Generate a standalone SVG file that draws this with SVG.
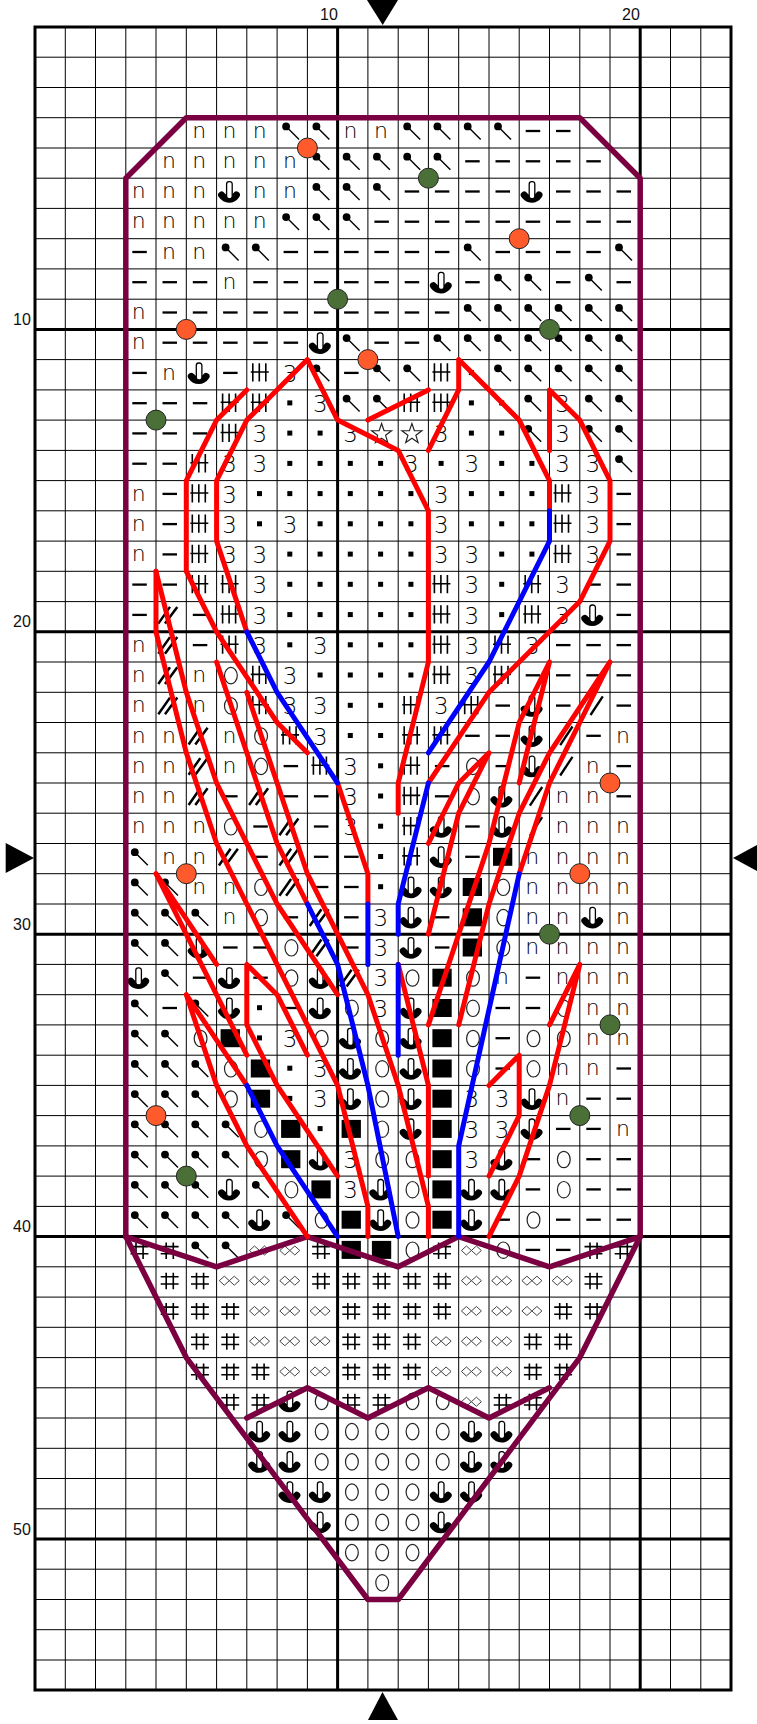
<svg xmlns="http://www.w3.org/2000/svg" width="757" height="1724" viewBox="0 0 757 1724">
<style>
.thin{fill:none;stroke:#000;stroke-width:1}
.major{fill:none;stroke:#000;stroke-width:3}
.wine{fill:none;stroke:#7b0041;stroke-width:5.5;stroke-linejoin:round;stroke-linecap:round}
.red{fill:none;stroke:#f00;stroke-width:5;stroke-linejoin:round;stroke-linecap:round}
.blue{fill:none;stroke:#00f;stroke-width:5;stroke-linejoin:round;stroke-linecap:round}
.or{fill:#ff5a2b;stroke:#222;stroke-width:1}
.gr{fill:#4a7038;stroke:#222;stroke-width:1}
.lab{font-family:"Liberation Sans",Arial,sans-serif;font-size:16px;fill:#111}
.n{font-family:"DejaVu Sans",sans-serif;font-weight:200;font-size:22px;fill:#000;text-anchor:middle}
.t{font-family:"DejaVu Sans",sans-serif;font-weight:200;font-size:23px;fill:#000;text-anchor:middle}
.ln{fill:none;stroke:#000}
</style>
<defs>
<g id="k"><circle cx="-4" cy="-11.3" r="3.9" fill="#000"/><path d="M-4,-11.3L9,1.7" class="ln" stroke-width="1.4"/></g>
<path id="d" d="M-6.5,-6.7H8" class="ln" stroke-width="2.3"/>
<g id="A"><path d="M-8,-3.2Q-5,1 -0.6,1Q4,1 6.8,-3.2" class="ln" stroke-width="7" stroke-linecap="round"/><rect x="-3" y="-16.6" width="5.6" height="17" rx="2.4" fill="#fff" stroke="#000" stroke-width="1.3"/></g>
<path id="T" d="M-7,-16.3V2M-0.5,-16.3V2M6,-16.3V2M-9,-7.6H9" class="ln" stroke-width="1.6"/>
<path id="H" d="M-2.8,-14V2.5M4.3,-14V2.5M-8.3,-10H9.6M-8.3,-2.8H9.6" class="ln" stroke-width="1.6"/>
<path id="e" d="M-10.3,-6.1L-5.3,-10.6L-0.3,-6.1L-5.3,-1.6ZM-0.3,-6.1L4.7,-10.6L9.7,-6.1L4.7,-1.6Z" fill="none" stroke="#444" stroke-width="1"/>
<ellipse id="O" cx="1.3" cy="-6.4" rx="6.4" ry="8.2" fill="none" stroke="#222" stroke-width="1.2"/>
<rect id="B" x="-9" y="-15.7" width="19.3" height="18" fill="#000"/>
<rect id="p" x="-2.8" y="-9.5" width="5" height="5" fill="#000"/>
<path id="D" d="M-10.7,2L1,-14.7M-4,2L8.3,-14.7" class="ln" stroke-width="2.5"/>
<path id="S" d="M-2.3,2.7L10,-16" class="ln" stroke-width="2.3"/>
<polygon id="s" points="0.7,-16.6 3.17,-9.5 10.69,-9.34 4.69,-4.8 6.87,2.39 0.7,-1.9 -5.47,2.39 -3.29,-4.8 -9.29,-9.34 -1.77,-9.5" fill="none" stroke="#222" stroke-width="1.2"/>
</defs>
<g id="grid">
<path class="thin" d="M65.3,27V1690M95.5,27V1690M125.8,27V1690M156,27V1690M186.3,27V1690M216.6,27V1690M246.8,27V1690M277.1,27V1690M307.4,27V1690M367.9,27V1690M398.2,27V1690M428.4,27V1690M458.7,27V1690M489,27V1690M519.2,27V1690M549.5,27V1690M579.8,27V1690M610,27V1690M670.5,27V1690M700.8,27V1690"/>
<path class="thin" d="M35,57.2H731M35,87.5H731M35,117.7H731M35,148H731M35,178.2H731M35,208.4H731M35,238.7H731M35,268.9H731M35,299.2H731M35,359.6H731M35,389.9H731M35,420.1H731M35,450.4H731M35,480.6H731M35,510.8H731M35,541.1H731M35,571.3H731M35,601.6H731M35,662H731M35,692.3H731M35,722.5H731M35,752.8H731M35,783H731M35,813.2H731M35,843.5H731M35,873.7H731M35,904H731M35,964.4H731M35,994.7H731M35,1024.9H731M35,1055.2H731M35,1085.4H731M35,1115.6H731M35,1145.9H731M35,1176.1H731M35,1206.4H731M35,1266.8H731M35,1297.1H731M35,1327.3H731M35,1357.6H731M35,1387.8H731M35,1418H731M35,1448.3H731M35,1478.5H731M35,1508.8H731M35,1569.2H731M35,1599.5H731M35,1629.7H731M35,1660H731"/>
<path class="major" d="M337.6,27V1690M640.2,27V1690M35,329.4H731M35,631.8H731M35,934.2H731M35,1236.6H731M35,1539H731"/>
<rect class="major" x="35" y="27" width="696" height="1663"/>
</g>
<g id="labels">
<text class="lab" x="320" y="20">10</text><text class="lab" x="622" y="20">20</text>
<text class="lab" x="13" y="325">10</text><text class="lab" x="13" y="627">20</text><text class="lab" x="13" y="930">30</text><text class="lab" x="13" y="1232">40</text><text class="lab" x="13" y="1535">50</text>
</g>
<g id="markers" fill="#000">
<polygon points="367,0 398,0 382.7,25"/><polygon points="382.5,1692 368,1720 398,1720"/><polygon points="5.7,843 5.7,873 34,858"/><polygon points="733,858 757,845 757,871"/>
</g>
<g id="cells">
<g transform="translate(13,137.7)"><text class="n" x="186.3">n</text><text class="n" x="216.6">n</text><text class="n" x="246.8">n</text><use href="#k" x="277.1"/><use href="#k" x="307.4"/><text class="n" x="337.6">n</text><text class="n" x="367.9">n</text><use href="#k" x="398.2"/><use href="#k" x="428.4"/><use href="#k" x="458.7"/><use href="#k" x="489"/><use href="#d" x="519.2"/><use href="#d" x="549.5"/></g>
<g transform="translate(13,168)"><text class="n" x="156">n</text><text class="n" x="186.3">n</text><text class="n" x="216.6">n</text><text class="n" x="246.8">n</text><text class="n" x="277.1">n</text><use href="#k" x="307.4"/><use href="#k" x="337.6"/><use href="#k" x="367.9"/><use href="#k" x="398.2"/><use href="#k" x="428.4"/><use href="#d" x="458.7"/><use href="#d" x="489"/><use href="#d" x="519.2"/><use href="#d" x="549.5"/><use href="#d" x="579.8"/></g>
<g transform="translate(13,198.2)"><text class="n" x="125.8">n</text><text class="n" x="156">n</text><text class="n" x="186.3">n</text><use href="#A" x="216.6"/><text class="n" x="246.8">n</text><text class="n" x="277.1">n</text><use href="#k" x="307.4"/><use href="#k" x="337.6"/><use href="#k" x="367.9"/><use href="#d" x="398.2"/><use href="#d" x="428.4"/><use href="#d" x="458.7"/><use href="#d" x="489"/><use href="#A" x="519.2"/><use href="#d" x="549.5"/><use href="#d" x="579.8"/><use href="#d" x="610"/></g>
<g transform="translate(13,228.4)"><text class="n" x="125.8">n</text><text class="n" x="156">n</text><text class="n" x="186.3">n</text><text class="n" x="216.6">n</text><text class="n" x="246.8">n</text><use href="#k" x="277.1"/><use href="#k" x="307.4"/><use href="#k" x="337.6"/><use href="#d" x="367.9"/><use href="#d" x="398.2"/><use href="#d" x="428.4"/><use href="#d" x="458.7"/><use href="#d" x="489"/><use href="#d" x="519.2"/><use href="#d" x="549.5"/><use href="#d" x="579.8"/><use href="#d" x="610"/></g>
<g transform="translate(13,258.7)"><use href="#d" x="125.8"/><text class="n" x="156">n</text><text class="n" x="186.3">n</text><use href="#k" x="216.6"/><use href="#k" x="246.8"/><use href="#d" x="277.1"/><use href="#d" x="307.4"/><use href="#d" x="337.6"/><use href="#d" x="367.9"/><use href="#d" x="398.2"/><use href="#d" x="428.4"/><use href="#k" x="458.7"/><use href="#d" x="489"/><use href="#d" x="519.2"/><use href="#d" x="549.5"/><use href="#d" x="579.8"/><use href="#k" x="610"/></g>
<g transform="translate(13,288.9)"><use href="#d" x="125.8"/><use href="#d" x="156"/><use href="#d" x="186.3"/><text class="n" x="216.6">n</text><use href="#d" x="246.8"/><use href="#d" x="277.1"/><use href="#d" x="307.4"/><use href="#d" x="337.6"/><use href="#d" x="367.9"/><use href="#d" x="398.2"/><use href="#A" x="428.4"/><use href="#d" x="458.7"/><use href="#k" x="489"/><use href="#k" x="519.2"/><use href="#d" x="549.5"/><use href="#k" x="579.8"/><use href="#d" x="610"/></g>
<g transform="translate(13,319.2)"><text class="n" x="125.8">n</text><use href="#d" x="156"/><use href="#d" x="186.3"/><use href="#d" x="216.6"/><use href="#d" x="246.8"/><use href="#d" x="277.1"/><use href="#d" x="307.4"/><use href="#d" x="337.6"/><use href="#d" x="367.9"/><use href="#d" x="398.2"/><use href="#d" x="428.4"/><use href="#k" x="458.7"/><use href="#k" x="489"/><use href="#k" x="519.2"/><use href="#k" x="549.5"/><use href="#k" x="579.8"/><use href="#k" x="610"/></g>
<g transform="translate(13,349.4)"><text class="n" x="125.8">n</text><use href="#d" x="156"/><use href="#d" x="186.3"/><use href="#d" x="216.6"/><use href="#d" x="246.8"/><use href="#d" x="277.1"/><use href="#A" x="307.4"/><use href="#k" x="337.6"/><use href="#d" x="367.9"/><use href="#d" x="398.2"/><use href="#k" x="428.4"/><use href="#k" x="458.7"/><use href="#k" x="489"/><use href="#k" x="519.2"/><use href="#k" x="549.5"/><use href="#k" x="579.8"/><use href="#k" x="610"/></g>
<g transform="translate(13,379.6)"><use href="#d" x="125.8"/><text class="n" x="156">n</text><use href="#A" x="186.3"/><use href="#d" x="216.6"/><use href="#T" x="246.8"/><text class="t" y="2" x="277.1">3</text><use href="#k" x="307.4"/><use href="#d" x="337.6"/><use href="#k" x="367.9"/><use href="#k" x="398.2"/><use href="#T" x="428.4"/><use href="#p" x="458.7"/><use href="#k" x="489"/><use href="#k" x="519.2"/><use href="#k" x="549.5"/><use href="#k" x="579.8"/><use href="#k" x="610"/></g>
<g transform="translate(13,409.9)"><use href="#d" x="125.8"/><use href="#d" x="156"/><use href="#d" x="186.3"/><use href="#T" x="216.6"/><use href="#T" x="246.8"/><use href="#p" x="277.1"/><text class="t" y="2" x="307.4">3</text><use href="#k" x="337.6"/><use href="#k" x="367.9"/><use href="#T" x="398.2"/><use href="#T" x="428.4"/><use href="#p" x="458.7"/><use href="#p" x="489"/><use href="#k" x="519.2"/><text class="t" y="2" x="549.5">3</text><use href="#k" x="579.8"/><use href="#k" x="610"/></g>
<g transform="translate(13,440.1)"><use href="#d" x="125.8"/><use href="#d" x="156"/><use href="#d" x="186.3"/><use href="#T" x="216.6"/><text class="t" y="2" x="246.8">3</text><use href="#p" x="277.1"/><use href="#p" x="307.4"/><text class="t" y="2" x="337.6">3</text><use href="#s" x="367.9"/><use href="#s" x="398.2"/><text class="t" y="2" x="428.4">3</text><use href="#p" x="458.7"/><use href="#p" x="489"/><use href="#k" x="519.2"/><text class="t" y="2" x="549.5">3</text><use href="#k" x="579.8"/><use href="#k" x="610"/></g>
<g transform="translate(13,470.4)"><use href="#d" x="125.8"/><use href="#d" x="156"/><use href="#T" x="186.3"/><text class="t" y="2" x="216.6">3</text><text class="t" y="2" x="246.8">3</text><use href="#p" x="277.1"/><use href="#p" x="307.4"/><use href="#p" x="337.6"/><use href="#p" x="367.9"/><text class="t" y="2" x="398.2">3</text><use href="#p" x="428.4"/><text class="t" y="2" x="458.7">3</text><use href="#p" x="489"/><use href="#p" x="519.2"/><text class="t" y="2" x="549.5">3</text><text class="t" y="2" x="579.8">3</text><use href="#k" x="610"/></g>
<g transform="translate(13,500.6)"><text class="n" x="125.8">n</text><use href="#d" x="156"/><use href="#T" x="186.3"/><text class="t" y="2" x="216.6">3</text><use href="#p" x="246.8"/><use href="#p" x="277.1"/><use href="#p" x="307.4"/><use href="#p" x="337.6"/><use href="#p" x="367.9"/><use href="#p" x="398.2"/><text class="t" y="2" x="428.4">3</text><use href="#p" x="458.7"/><use href="#p" x="489"/><use href="#p" x="519.2"/><use href="#T" x="549.5"/><text class="t" y="2" x="579.8">3</text><use href="#d" x="610"/></g>
<g transform="translate(13,530.8)"><text class="n" x="125.8">n</text><use href="#d" x="156"/><use href="#T" x="186.3"/><text class="t" y="2" x="216.6">3</text><use href="#p" x="246.8"/><text class="t" y="2" x="277.1">3</text><use href="#p" x="307.4"/><use href="#p" x="337.6"/><use href="#p" x="367.9"/><use href="#p" x="398.2"/><text class="t" y="2" x="428.4">3</text><use href="#p" x="458.7"/><use href="#p" x="489"/><use href="#p" x="519.2"/><use href="#T" x="549.5"/><text class="t" y="2" x="579.8">3</text><use href="#d" x="610"/></g>
<g transform="translate(13,561.1)"><text class="n" x="125.8">n</text><use href="#d" x="156"/><use href="#T" x="186.3"/><text class="t" y="2" x="216.6">3</text><text class="t" y="2" x="246.8">3</text><use href="#p" x="277.1"/><use href="#p" x="307.4"/><use href="#p" x="337.6"/><use href="#p" x="367.9"/><use href="#p" x="398.2"/><text class="t" y="2" x="428.4">3</text><text class="t" y="2" x="458.7">3</text><use href="#p" x="489"/><use href="#p" x="519.2"/><use href="#T" x="549.5"/><text class="t" y="2" x="579.8">3</text><use href="#d" x="610"/></g>
<g transform="translate(13,591.3)"><use href="#d" x="125.8"/><use href="#d" x="156"/><use href="#T" x="186.3"/><use href="#T" x="216.6"/><text class="t" y="2" x="246.8">3</text><use href="#p" x="277.1"/><use href="#p" x="307.4"/><use href="#p" x="337.6"/><use href="#p" x="367.9"/><use href="#p" x="398.2"/><use href="#T" x="428.4"/><text class="t" y="2" x="458.7">3</text><use href="#p" x="489"/><use href="#T" x="519.2"/><text class="t" y="2" x="549.5">3</text><use href="#d" x="579.8"/><use href="#d" x="610"/></g>
<g transform="translate(13,621.6)"><use href="#d" x="125.8"/><use href="#D" x="156"/><use href="#d" x="186.3"/><use href="#T" x="216.6"/><text class="t" y="2" x="246.8">3</text><use href="#p" x="277.1"/><use href="#p" x="307.4"/><use href="#p" x="337.6"/><use href="#p" x="367.9"/><use href="#p" x="398.2"/><use href="#T" x="428.4"/><text class="t" y="2" x="458.7">3</text><use href="#p" x="489"/><use href="#T" x="519.2"/><text class="t" y="2" x="549.5">3</text><use href="#A" x="579.8"/><use href="#d" x="610"/></g>
<g transform="translate(13,651.8)"><text class="n" x="125.8">n</text><use href="#D" x="156"/><use href="#d" x="186.3"/><use href="#T" x="216.6"/><text class="t" y="2" x="246.8">3</text><use href="#p" x="277.1"/><text class="t" y="2" x="307.4">3</text><use href="#p" x="337.6"/><use href="#p" x="367.9"/><use href="#p" x="398.2"/><use href="#T" x="428.4"/><text class="t" y="2" x="458.7">3</text><use href="#T" x="489"/><text class="t" y="2" x="519.2">3</text><use href="#d" x="549.5"/><use href="#d" x="579.8"/><use href="#d" x="610"/></g>
<g transform="translate(13,682)"><text class="n" x="125.8">n</text><use href="#D" x="156"/><text class="n" x="186.3">n</text><use href="#O" x="216.6"/><use href="#T" x="246.8"/><text class="t" y="2" x="277.1">3</text><use href="#p" x="307.4"/><use href="#p" x="337.6"/><use href="#p" x="367.9"/><use href="#p" x="398.2"/><use href="#T" x="428.4"/><text class="t" y="2" x="458.7">3</text><use href="#T" x="489"/><use href="#d" x="519.2"/><use href="#d" x="549.5"/><use href="#d" x="579.8"/><use href="#d" x="610"/></g>
<g transform="translate(13,712.3)"><text class="n" x="125.8">n</text><use href="#D" x="156"/><text class="n" x="186.3">n</text><use href="#O" x="216.6"/><use href="#T" x="246.8"/><text class="t" y="2" x="277.1">3</text><text class="t" y="2" x="307.4">3</text><use href="#p" x="337.6"/><use href="#p" x="367.9"/><use href="#T" x="398.2"/><text class="t" y="2" x="428.4">3</text><use href="#T" x="458.7"/><use href="#d" x="489"/><use href="#A" x="519.2"/><use href="#d" x="549.5"/><use href="#S" x="579.8"/><use href="#d" x="610"/></g>
<g transform="translate(13,742.5)"><text class="n" x="125.8">n</text><text class="n" x="156">n</text><use href="#D" x="186.3"/><text class="n" x="216.6">n</text><use href="#O" x="246.8"/><use href="#T" x="277.1"/><text class="t" y="2" x="307.4">3</text><use href="#p" x="337.6"/><use href="#p" x="367.9"/><use href="#T" x="398.2"/><use href="#T" x="428.4"/><use href="#d" x="458.7"/><use href="#d" x="489"/><use href="#A" x="519.2"/><use href="#S" x="549.5"/><use href="#d" x="579.8"/><text class="n" x="610">n</text></g>
<g transform="translate(13,772.8)"><text class="n" x="125.8">n</text><text class="n" x="156">n</text><use href="#D" x="186.3"/><text class="n" x="216.6">n</text><use href="#O" x="246.8"/><use href="#d" x="277.1"/><use href="#T" x="307.4"/><text class="t" y="2" x="337.6">3</text><use href="#p" x="367.9"/><use href="#T" x="398.2"/><use href="#d" x="428.4"/><use href="#O" x="458.7"/><use href="#d" x="489"/><use href="#A" x="519.2"/><use href="#S" x="549.5"/><text class="n" x="579.8">n</text><use href="#d" x="610"/></g>
<g transform="translate(13,803)"><text class="n" x="125.8">n</text><text class="n" x="156">n</text><use href="#D" x="186.3"/><use href="#d" x="216.6"/><use href="#D" x="246.8"/><use href="#d" x="277.1"/><use href="#d" x="307.4"/><text class="t" y="2" x="337.6">3</text><use href="#p" x="367.9"/><use href="#T" x="398.2"/><use href="#d" x="428.4"/><use href="#O" x="458.7"/><use href="#A" x="489"/><use href="#S" x="519.2"/><text class="n" x="549.5">n</text><text class="n" x="579.8">n</text><use href="#d" x="610"/></g>
<g transform="translate(13,833.2)"><text class="n" x="125.8">n</text><text class="n" x="156">n</text><text class="n" x="186.3">n</text><use href="#O" x="216.6"/><use href="#d" x="246.8"/><use href="#D" x="277.1"/><use href="#d" x="307.4"/><text class="t" y="2" x="337.6">3</text><use href="#p" x="367.9"/><use href="#T" x="398.2"/><use href="#A" x="428.4"/><use href="#d" x="458.7"/><use href="#A" x="489"/><use href="#S" x="519.2"/><text class="n" x="549.5">n</text><text class="n" x="579.8">n</text><text class="n" x="610">n</text></g>
<g transform="translate(13,863.5)"><use href="#k" x="125.8"/><text class="n" x="156">n</text><text class="n" x="186.3">n</text><use href="#D" x="216.6"/><use href="#d" x="246.8"/><use href="#D" x="277.1"/><use href="#d" x="307.4"/><use href="#d" x="337.6"/><use href="#p" x="367.9"/><use href="#T" x="398.2"/><use href="#A" x="428.4"/><use href="#d" x="458.7"/><use href="#B" x="489"/><text class="n" x="519.2">n</text><text class="n" x="549.5">n</text><text class="n" x="579.8">n</text><text class="n" x="610">n</text></g>
<g transform="translate(13,893.7)"><use href="#k" x="125.8"/><use href="#k" x="156"/><text class="n" x="186.3">n</text><text class="n" x="216.6">n</text><use href="#O" x="246.8"/><use href="#D" x="277.1"/><use href="#d" x="307.4"/><use href="#d" x="337.6"/><use href="#p" x="367.9"/><use href="#A" x="398.2"/><use href="#A" x="428.4"/><use href="#B" x="458.7"/><use href="#O" x="489"/><text class="n" x="519.2">n</text><text class="n" x="549.5">n</text><text class="n" x="579.8">n</text><text class="n" x="610">n</text></g>
<g transform="translate(13,924)"><use href="#k" x="125.8"/><use href="#k" x="156"/><use href="#k" x="186.3"/><text class="n" x="216.6">n</text><use href="#O" x="246.8"/><use href="#d" x="277.1"/><use href="#D" x="307.4"/><use href="#d" x="337.6"/><text class="t" y="2" x="367.9">3</text><use href="#A" x="398.2"/><use href="#d" x="428.4"/><use href="#B" x="458.7"/><use href="#O" x="489"/><text class="n" x="519.2">n</text><text class="n" x="549.5">n</text><use href="#A" x="579.8"/><text class="n" x="610">n</text></g>
<g transform="translate(13,954.2)"><use href="#k" x="125.8"/><use href="#k" x="156"/><use href="#A" x="186.3"/><use href="#d" x="216.6"/><use href="#d" x="246.8"/><use href="#O" x="277.1"/><use href="#D" x="307.4"/><use href="#d" x="337.6"/><text class="t" y="2" x="367.9">3</text><use href="#A" x="398.2"/><use href="#d" x="428.4"/><use href="#B" x="458.7"/><use href="#O" x="489"/><text class="n" x="519.2">n</text><text class="n" x="549.5">n</text><text class="n" x="579.8">n</text><text class="n" x="610">n</text></g>
<g transform="translate(13,984.4)"><use href="#A" x="125.8"/><use href="#k" x="156"/><use href="#d" x="186.3"/><use href="#A" x="216.6"/><use href="#d" x="246.8"/><use href="#O" x="277.1"/><use href="#A" x="307.4"/><use href="#D" x="337.6"/><text class="t" y="2" x="367.9">3</text><use href="#O" x="398.2"/><use href="#B" x="428.4"/><use href="#O" x="458.7"/><text class="n" x="489">n</text><use href="#d" x="519.2"/><text class="n" x="549.5">n</text><text class="n" x="579.8">n</text><text class="n" x="610">n</text></g>
<g transform="translate(13,1014.7)"><use href="#k" x="125.8"/><use href="#d" x="156"/><use href="#k" x="186.3"/><use href="#A" x="216.6"/><use href="#p" x="246.8"/><use href="#d" x="277.1"/><use href="#A" x="307.4"/><use href="#O" x="337.6"/><text class="t" y="2" x="367.9">3</text><use href="#A" x="398.2"/><use href="#B" x="428.4"/><use href="#O" x="458.7"/><use href="#d" x="489"/><use href="#d" x="519.2"/><use href="#O" x="549.5"/><text class="n" x="579.8">n</text><text class="n" x="610">n</text></g>
<g transform="translate(13,1044.9)"><use href="#k" x="125.8"/><use href="#k" x="156"/><use href="#O" x="186.3"/><use href="#B" x="216.6"/><use href="#p" x="246.8"/><text class="t" y="2" x="277.1">3</text><use href="#O" x="307.4"/><use href="#A" x="337.6"/><use href="#O" x="367.9"/><use href="#A" x="398.2"/><use href="#B" x="428.4"/><use href="#O" x="458.7"/><use href="#d" x="489"/><use href="#O" x="519.2"/><use href="#O" x="549.5"/><text class="n" x="579.8">n</text><text class="n" x="610">n</text></g>
<g transform="translate(13,1075.2)"><use href="#k" x="125.8"/><use href="#k" x="156"/><use href="#k" x="186.3"/><use href="#O" x="216.6"/><use href="#B" x="246.8"/><use href="#p" x="277.1"/><text class="t" y="2" x="307.4">3</text><use href="#A" x="337.6"/><use href="#O" x="367.9"/><use href="#A" x="398.2"/><use href="#B" x="428.4"/><use href="#O" x="458.7"/><use href="#d" x="489"/><use href="#O" x="519.2"/><text class="n" x="549.5">n</text><text class="n" x="579.8">n</text><use href="#d" x="610"/></g>
<g transform="translate(13,1105.4)"><use href="#k" x="125.8"/><use href="#k" x="156"/><use href="#k" x="186.3"/><use href="#O" x="216.6"/><use href="#B" x="246.8"/><use href="#p" x="277.1"/><text class="t" y="2" x="307.4">3</text><use href="#A" x="337.6"/><use href="#O" x="367.9"/><use href="#A" x="398.2"/><use href="#B" x="428.4"/><text class="t" y="2" x="458.7">3</text><text class="t" y="2" x="489">3</text><use href="#A" x="519.2"/><text class="n" x="549.5">n</text><use href="#d" x="579.8"/><use href="#d" x="610"/></g>
<g transform="translate(13,1135.6)"><use href="#k" x="125.8"/><use href="#k" x="156"/><use href="#k" x="186.3"/><use href="#k" x="216.6"/><use href="#O" x="246.8"/><use href="#B" x="277.1"/><use href="#p" x="307.4"/><use href="#B" x="337.6"/><use href="#O" x="367.9"/><use href="#A" x="398.2"/><use href="#B" x="428.4"/><text class="t" y="2" x="458.7">3</text><text class="t" y="2" x="489">3</text><use href="#A" x="519.2"/><use href="#d" x="549.5"/><use href="#d" x="579.8"/><text class="n" x="610">n</text></g>
<g transform="translate(13,1165.9)"><use href="#k" x="125.8"/><use href="#k" x="156"/><use href="#k" x="186.3"/><use href="#k" x="216.6"/><use href="#O" x="246.8"/><use href="#B" x="277.1"/><use href="#A" x="307.4"/><text class="t" y="2" x="337.6">3</text><use href="#O" x="367.9"/><use href="#O" x="398.2"/><use href="#B" x="428.4"/><text class="t" y="2" x="458.7">3</text><use href="#A" x="489"/><use href="#d" x="519.2"/><use href="#O" x="549.5"/><use href="#d" x="579.8"/><use href="#d" x="610"/></g>
<g transform="translate(13,1196.1)"><use href="#k" x="125.8"/><use href="#k" x="156"/><use href="#k" x="186.3"/><use href="#A" x="216.6"/><use href="#k" x="246.8"/><use href="#O" x="277.1"/><use href="#B" x="307.4"/><text class="t" y="2" x="337.6">3</text><use href="#A" x="367.9"/><use href="#O" x="398.2"/><use href="#B" x="428.4"/><use href="#A" x="458.7"/><use href="#A" x="489"/><use href="#d" x="519.2"/><use href="#O" x="549.5"/><use href="#d" x="579.8"/><use href="#d" x="610"/></g>
<g transform="translate(13,1226.4)"><use href="#k" x="125.8"/><use href="#k" x="156"/><use href="#k" x="186.3"/><use href="#k" x="216.6"/><use href="#A" x="246.8"/><use href="#k" x="277.1"/><use href="#O" x="307.4"/><use href="#B" x="337.6"/><use href="#A" x="367.9"/><use href="#O" x="398.2"/><use href="#B" x="428.4"/><use href="#A" x="458.7"/><use href="#d" x="489"/><use href="#O" x="519.2"/><use href="#d" x="549.5"/><use href="#d" x="579.8"/><use href="#d" x="610"/></g>
<g transform="translate(13,1256.6)"><use href="#H" x="125.8"/><use href="#H" x="156"/><use href="#k" x="186.3"/><use href="#k" x="216.6"/><use href="#e" x="246.8"/><use href="#e" x="277.1"/><use href="#H" x="307.4"/><use href="#B" x="337.6"/><use href="#B" x="367.9"/><use href="#O" x="398.2"/><use href="#H" x="428.4"/><use href="#e" x="458.7"/><use href="#O" x="489"/><use href="#d" x="519.2"/><use href="#d" x="549.5"/><use href="#H" x="579.8"/><use href="#H" x="610"/></g>
<g transform="translate(13,1286.8)"><use href="#H" x="156"/><use href="#H" x="186.3"/><use href="#e" x="216.6"/><use href="#e" x="246.8"/><use href="#e" x="277.1"/><use href="#H" x="307.4"/><use href="#H" x="337.6"/><use href="#H" x="367.9"/><use href="#H" x="398.2"/><use href="#H" x="428.4"/><use href="#e" x="458.7"/><use href="#e" x="489"/><use href="#e" x="519.2"/><use href="#e" x="549.5"/><use href="#H" x="579.8"/></g>
<g transform="translate(13,1317.1)"><use href="#H" x="156"/><use href="#H" x="186.3"/><use href="#H" x="216.6"/><use href="#e" x="246.8"/><use href="#e" x="277.1"/><use href="#e" x="307.4"/><use href="#H" x="337.6"/><use href="#H" x="367.9"/><use href="#H" x="398.2"/><use href="#H" x="428.4"/><use href="#e" x="458.7"/><use href="#e" x="489"/><use href="#e" x="519.2"/><use href="#H" x="549.5"/><use href="#H" x="579.8"/></g>
<g transform="translate(13,1347.3)"><use href="#H" x="186.3"/><use href="#H" x="216.6"/><use href="#e" x="246.8"/><use href="#e" x="277.1"/><use href="#e" x="307.4"/><use href="#H" x="337.6"/><use href="#H" x="367.9"/><use href="#H" x="398.2"/><use href="#e" x="428.4"/><use href="#e" x="458.7"/><use href="#e" x="489"/><use href="#H" x="519.2"/><use href="#H" x="549.5"/></g>
<g transform="translate(13,1377.6)"><use href="#H" x="186.3"/><use href="#H" x="216.6"/><use href="#H" x="246.8"/><use href="#e" x="277.1"/><use href="#e" x="307.4"/><use href="#H" x="337.6"/><use href="#H" x="367.9"/><use href="#H" x="398.2"/><use href="#e" x="428.4"/><use href="#e" x="458.7"/><use href="#e" x="489"/><use href="#H" x="519.2"/><use href="#H" x="549.5"/></g>
<g transform="translate(13,1407.8)"><use href="#H" x="216.6"/><use href="#H" x="246.8"/><use href="#A" x="277.1"/><use href="#O" x="307.4"/><use href="#H" x="337.6"/><use href="#H" x="367.9"/><use href="#O" x="398.2"/><use href="#O" x="428.4"/><use href="#e" x="458.7"/><use href="#H" x="489"/><use href="#H" x="519.2"/></g>
<g transform="translate(13,1438)"><use href="#A" x="246.8"/><use href="#A" x="277.1"/><use href="#O" x="307.4"/><use href="#O" x="337.6"/><use href="#O" x="367.9"/><use href="#O" x="398.2"/><use href="#O" x="428.4"/><use href="#A" x="458.7"/><use href="#A" x="489"/></g>
<g transform="translate(13,1468.3)"><use href="#A" x="246.8"/><use href="#A" x="277.1"/><use href="#O" x="307.4"/><use href="#O" x="337.6"/><use href="#O" x="367.9"/><use href="#O" x="398.2"/><use href="#O" x="428.4"/><use href="#A" x="458.7"/><use href="#A" x="489"/></g>
<g transform="translate(13,1498.5)"><use href="#A" x="277.1"/><use href="#A" x="307.4"/><use href="#O" x="337.6"/><use href="#O" x="367.9"/><use href="#O" x="398.2"/><use href="#A" x="428.4"/><use href="#A" x="458.7"/></g>
<g transform="translate(13,1528.8)"><use href="#A" x="307.4"/><use href="#O" x="337.6"/><use href="#O" x="367.9"/><use href="#O" x="398.2"/><use href="#A" x="428.4"/></g>
<g transform="translate(13,1559)"><use href="#O" x="337.6"/><use href="#O" x="367.9"/><use href="#O" x="398.2"/></g>
<g transform="translate(13,1589.2)"><use href="#O" x="367.9"/></g>
</g>
<g id="connectors">
<g id="wine-lines">
<polyline class="wine" points="125.8,1236.6 125.8,178.2 186.3,117.7 579.8,117.7 640.2,178.2 640.2,1236.6"/>
<polyline class="wine" points="125.8,1236.6 186.3,1357.6 367.9,1599.5 398.2,1599.5 579.8,1357.6 640.2,1236.6"/>
<polyline class="wine" points="125.8,1236.6 216.6,1266.8 307.4,1236.6 398.2,1266.8 458.7,1236.6 549.5,1266.8 640.2,1236.6"/>
<polyline class="wine" points="246.8,1418 307.4,1387.8 367.9,1418 428.4,1387.8 489,1418 549.5,1387.8"/>
</g>
<g id="red-lines">
<polyline class="red" points="246.8,389.9 216.6,420.1 186.3,480.6 186.3,571.3 216.6,631.8 277.1,722.5 307.4,752.8"/>
<polyline class="red" points="246.8,631.8 216.6,541.1 216.6,480.6 246.8,420.1 307.4,359.6 337.6,420.1 398.2,450.4 428.4,510.8 428.4,662 398.2,783 398.2,813.2"/>
<polyline class="red" points="367.9,420.1 428.4,389.9"/>
<polyline class="red" points="428.4,450.4 458.7,389.9 458.7,359.6 519.2,420.1 549.5,480.6 549.5,510.8"/>
<polyline class="red" points="549.5,450.4 549.5,389.9 579.8,420.1 610,480.6 610,541.1 579.8,601.6 489,692.3 428.4,783"/>
<polyline class="red" points="337.6,783 367.9,873.7 367.9,904"/>
<polyline class="red" points="156,571.3 156,631.8 186.3,752.8 216.6,843.5 246.8,904 337.6,1085.4 367.9,1206.4 367.9,1236.6"/>
<polyline class="red" points="156,571.3 186.3,692.3 216.6,783 277.1,904 337.6,994.7"/>
<polyline class="red" points="246.8,692.3 277.1,783 307.4,873.7 367.9,994.7 398.2,1085.4 428.4,1206.4 428.4,1236.6"/>
<polyline class="red" points="216.6,662 246.8,752.8 277.1,843.5 307.4,904"/>
<polyline class="red" points="216.6,964.4 156,873.7 246.8,1055.2"/>
<polyline class="red" points="307.4,1055.2 277.1,994.7 246.8,964.4 246.8,1024.9 277.1,1085.4 337.6,1176.1"/>
<polyline class="red" points="246.8,1085.4 186.3,994.7 216.6,1085.4 246.8,1145.9 307.4,1236.6"/>
<polyline class="red" points="398.2,964.4 428.4,1085.4 428.4,1176.1"/>
<polyline class="red" points="519.2,783 549.5,662 519.2,722.5 489,843.5 428.4,1024.9"/>
<polyline class="red" points="428.4,843.5 458.7,783 489,752.8 458.7,813.2 428.4,934.2"/>
<polyline class="red" points="458.7,1024.9 489,904 519.2,813.2 549.5,752.8 610,662 549.5,783 519.2,873.7"/>
<polyline class="red" points="549.5,1024.9 579.8,964.4 549.5,1085.4 519.2,1176.1 489,1236.6"/>
<polyline class="red" points="489,1085.4 519.2,1055.2 519.2,1115.6 489,1176.1"/>
</g>
<g id="blue-lines">
<polyline class="blue" points="246.8,631.8 277.1,692.3 337.6,783"/>
<polyline class="blue" points="367.9,904 367.9,964.4"/>
<polyline class="blue" points="307.4,904 337.6,964.4 367.9,1085.4 398.2,1236.6"/>
<polyline class="blue" points="246.8,1085.4 277.1,1145.9 337.6,1236.6"/>
<polyline class="blue" points="398.2,964.4 398.2,1055.2"/>
<polyline class="blue" points="428.4,783 398.2,904 398.2,934.2"/>
<polyline class="blue" points="519.2,873.7 458.7,1145.9 458.7,1236.6"/>
<polyline class="blue" points="549.5,510.8 549.5,541.1 489,662 428.4,752.8"/>
</g>
</g>
<g id="dots">
<circle class="or" cx="307.4" cy="148" r="10"/><circle class="or" cx="186.3" cy="329.4" r="10"/><circle class="or" cx="519.2" cy="238.7" r="10"/><circle class="or" cx="367.9" cy="359.6" r="10"/><circle class="or" cx="610" cy="783" r="10"/><circle class="or" cx="579.8" cy="873.7" r="10"/><circle class="or" cx="186.3" cy="873.7" r="10"/><circle class="or" cx="156" cy="1115.6" r="10"/>
<circle class="gr" cx="337.6" cy="299.2" r="10"/><circle class="gr" cx="428.4" cy="178.2" r="10"/><circle class="gr" cx="549.5" cy="329.4" r="10"/><circle class="gr" cx="156" cy="420.1" r="10"/><circle class="gr" cx="549.5" cy="934.2" r="10"/><circle class="gr" cx="610" cy="1024.9" r="10"/><circle class="gr" cx="579.8" cy="1115.6" r="10"/><circle class="gr" cx="186.3" cy="1176.1" r="10"/>
</g>
</svg>
